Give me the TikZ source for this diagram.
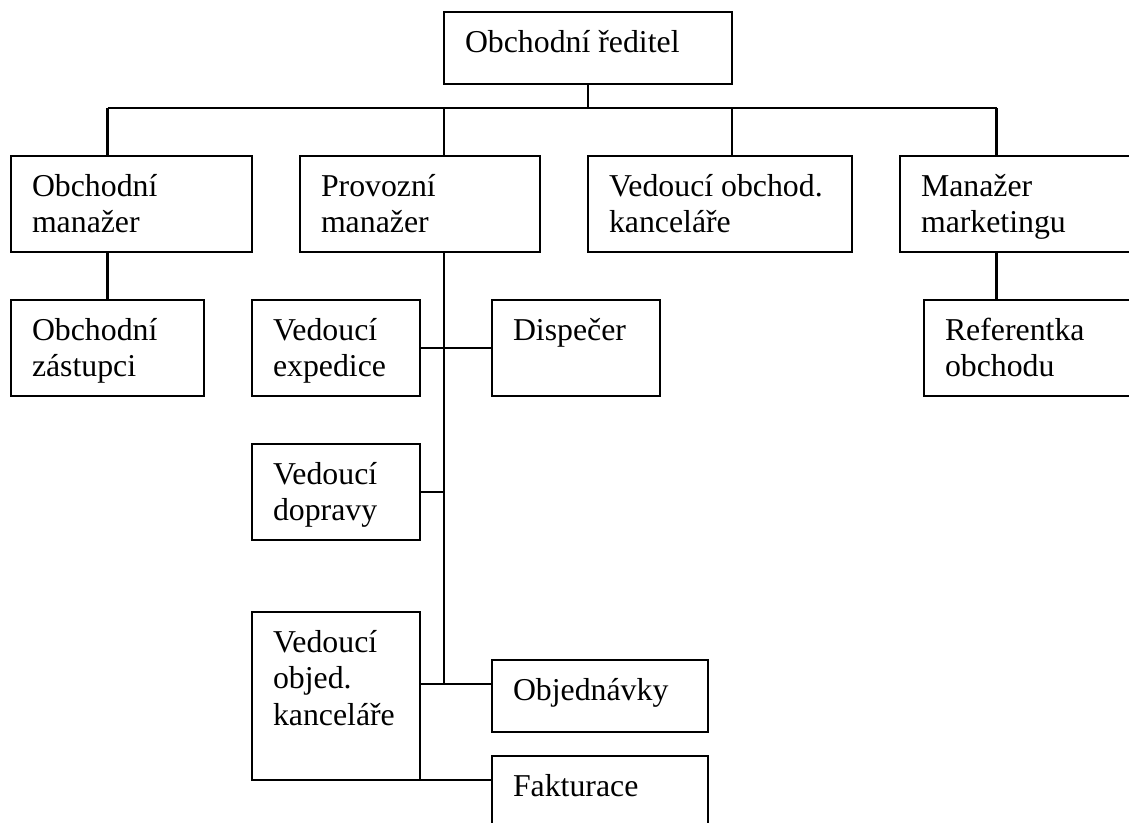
\documentclass[tikz,border=0pt]{standalone}
\usepackage{fontspec}
\setmainfont{Liberation Serif}
\usetikzlibrary{calc}

\tikzset{
  orgframe/.style={draw=black, line width=2.2pt, rectangle, inner sep=0pt, outer sep=0pt, anchor=north west},
  orgtext/.style={inner sep=0pt, outer sep=0pt, anchor=base west, font=\fontsize{31.8}{36.5}\selectfont},
  link/.style={draw=black, line width=2.2pt}
}

% box: name, left, top, right, bottom, text lines
\newcommand{\orgbox}[6]{%
  \node[orgframe, minimum width={(#4-#2)*1pt}, minimum height={(#5-#3)*1pt}] (#1) at (#2,#3) {};
  \node[orgtext] (#1-t) at ($(#1.north west)+(21,40)$) {\begin{tabular}[t]{@{}l@{}}#6\end{tabular}};
}

\begin{document}
\begin{tikzpicture}[x=1pt, y=-1pt]
  \useasboundingbox (0,0) rectangle (1129,822);
  \clip (0,0) rectangle (1129,822);

  % top level
  \orgbox{ceo}{444}{12}{732}{84}{Obchodní ředitel}

  % second level
  \orgbox{om}{11}{156}{252}{252}{Obchodní\\ manažer}
  \orgbox{pm}{300}{156}{540}{252}{Provozní\\ manažer}
  \orgbox{vok}{588}{156}{852}{252}{Vedoucí obchod.\\ kanceláře}
  \orgbox{mm}{900}{156}{1140}{252}{Manažer\\ marketingu}

  % third level
  \orgbox{oz}{11}{300}{204}{396}{Obchodní\\ zástupci}
  \orgbox{ve}{252}{300}{420}{396}{Vedoucí\\ expedice}
  \orgbox{dis}{492}{300}{660}{396}{Dispečer}
  \orgbox{ro}{924}{300}{1140}{396}{Referentka\\ obchodu}
  \orgbox{vd}{252}{444}{420}{540}{Vedoucí\\ dopravy}
  \orgbox{vobj}{252}{612}{420}{780}{Vedoucí\\ objed.\\ kanceláře}
  \orgbox{obj}{492}{660}{708}{732}{Objednávky}
  \orgbox{fak}{492}{756}{708}{840}{Fakturace}

  % junctions on the main bus and the operations trunk
  \coordinate (jOM) at (107.5,108);
  \coordinate (jPM) at (444,108);
  \coordinate (jVOK) at (732,108);
  \coordinate (jMM) at (996.5,108);
  \coordinate (jOBJ) at (444,684);

  % main bus
  \draw[link] (jOM) -- (jMM);
  \draw[link] (ceo.south) -- (ceo.south |- jOM);
  \draw[link] (jOM) -- (jOM |- om.north);
  \draw[link] (jPM) -- (jPM |- pm.north);
  \draw[link] (jVOK) -- (jVOK |- vok.north);
  \draw[link] (jMM) -- (jMM |- mm.north);

  % sales and marketing branches
  \draw[link] (jOM |- om.south) -- (jOM |- oz.north);
  \draw[link] (jMM |- mm.south) -- (jMM |- ro.north);

  % operations trunk
  \draw[link] (jPM |- pm.south) -- (jOBJ);
  \draw[link] (ve.east) -- (dis.west);
  \draw[link] (vd.east) -- (vd.east -| jOBJ);
  \draw[link] (jOBJ -| vobj.east) -- (jOBJ -| obj.west);
  \draw[link] (vobj.south east) -- (vobj.south east -| fak.west);
\end{tikzpicture}
\end{document}
